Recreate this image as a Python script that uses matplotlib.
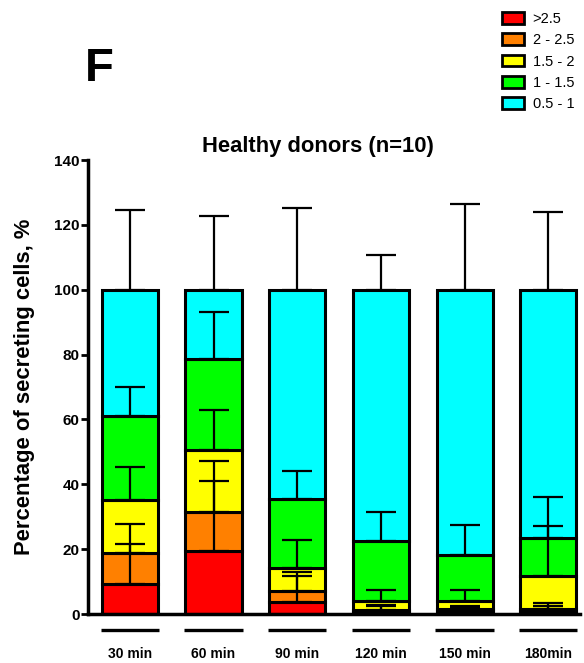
import numpy as np
import matplotlib
matplotlib.use("Agg")
import matplotlib.pyplot as plt
import matplotlib.transforms as mtransforms
from matplotlib.patches import Patch

plt.rcParams['font.family'] = ['Liberation Sans', 'DejaVu Sans']

# time points
categories = ['30 min', '60 min', '90 min', '120 min', '150 min', '180min']

# segment heights (%) per category, bottom to top
seg_gt25 = [9.1, 19.5, 3.7, 0.5, 1.0, 0.6]
seg_2_25 = [9.6, 11.9, 3.5, 0.7, 0.5, 1.0]
seg_15_2 = [16.6, 19.2, 7.1, 2.8, 2.5, 10.1]
seg_1_15 = [25.9, 28.0, 21.2, 18.5, 14.2, 11.8]
seg_05_1 = [38.8, 21.4, 64.5, 77.5, 81.8, 76.5]

# upper error (SD) for each segment
err_gt25 = [12.6, 21.5, 7.9, 1.9, 1.2, 1.9]
err_2_25 = [9.1, 15.8, 5.9, 1.7, 0.9, 1.8]
err_15_2 = [10.0, 12.3, 8.4, 3.3, 3.3, 15.5]
err_1_15 = [8.7, 14.6, 8.7, 8.9, 9.3, 12.5]
err_05_1 = [24.5, 22.6, 25.1, 10.8, 26.3, 24.0]

series_labels = ['>2.5', '2 - 2.5', '1.5 - 2', '1 - 1.5', '0.5 - 1']
series_colors = ['#FF0000', '#FF8000', '#FFFF00', '#00FF00', '#00FFFF']

segments = [seg_gt25, seg_2_25, seg_15_2, seg_1_15, seg_05_1]
errors = [err_gt25, err_2_25, err_15_2, err_1_15, err_05_1]

fig = plt.figure(figsize=(5.84, 6.63), dpi=100)
ax = fig.add_axes([88 / 584, 49 / 663, 492 / 584, 454 / 663])

x = np.arange(len(categories))
width = 0.67
bottom = np.zeros(len(categories))
for vals, errs, col in zip(segments, errors, series_colors):
    vals = np.array(vals)
    ax.bar(x, vals, width, bottom=bottom, color=col, edgecolor='black',
           linewidth=2.2, zorder=2)
    top = bottom + vals
    ax.errorbar(x, top, yerr=[np.zeros(len(x)), errs], fmt='none',
                ecolor='black', elinewidth=1.6, capsize=10.5, capthick=1.6,
                zorder=3)
    bottom = top

ax.set_xlim(-0.5, 5.38)
ax.set_ylim(0, 140)
ax.set_yticks(np.arange(0, 141, 20))
ax.spines['top'].set_visible(False)
ax.spines['right'].set_visible(False)
ax.spines['left'].set_linewidth(2.5)
ax.spines['bottom'].set_linewidth(2.5)
ax.tick_params(axis='y', direction='out', length=5, width=2, labelsize=11, pad=1)
ax.tick_params(axis='x', length=0, labelsize=10, pad=24)
ax.set_xticks(x)
ax.set_xticklabels(categories, fontweight='bold')
for lab in ax.get_yticklabels():
    lab.set_fontweight('bold')

# group lines below the axis
trans = mtransforms.blended_transform_factory(ax.transData, ax.transAxes)
for xi in x:
    ax.plot([xi - 0.35, xi + 0.35], [-0.035, -0.035], color='black',
            linewidth=2.4, transform=trans, clip_on=False, solid_capstyle='butt')

ax.set_ylabel('Percentage of secreting cells, %', fontsize=15.8,
              fontweight='bold', labelpad=14)
ax.set_title('Healthy donors (n=10)', fontsize=15.8, fontweight='bold',
             pad=6, x=0.4675)

fig.text(85 / 584, 1 - 69 / 663, 'F', fontsize=34, fontweight='bold',
         ha='left', va='center')

handles = [Patch(facecolor=c, edgecolor='black', linewidth=2, label=l)
           for c, l in zip(series_colors, series_labels)]
fig.legend(handles=handles, loc='upper left', frameon=False,
           bbox_to_anchor=(502 / 584, 1 - 12 / 663), borderpad=0,
           borderaxespad=0, fontsize=10.5, handlelength=1.5,
           handleheight=0.85, handletextpad=0.6, labelspacing=0.5)

fig.savefig('out.png', dpi=100)
